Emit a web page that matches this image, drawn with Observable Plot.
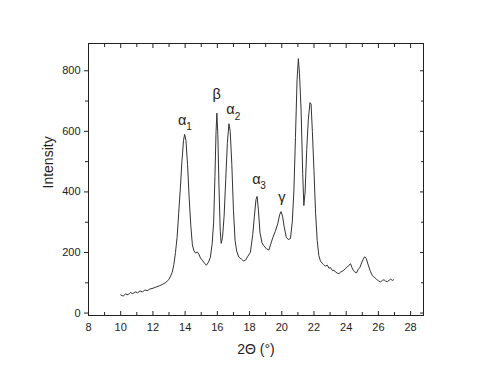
<!DOCTYPE html>
<html><head><meta charset="utf-8">
<script src="https://cdn.jsdelivr.net/npm/d3@7"></script>
<script src="https://cdn.jsdelivr.net/npm/@observablehq/plot@0.6"></script>
<style>body{margin:0;background:#fff;} svg{display:block;}</style>
</head><body><div id="chart"></div>
<script>
const twoTheta = [10.0,10.15,10.3,10.45,10.6,10.75,10.9,11.05,11.2,11.35,11.5,11.65,11.8,12.0,12.2,12.4,12.6,12.8,12.98,13.1,13.2,13.3,13.4,13.5,13.6,13.7,13.8,13.9,13.97,14.05,14.15,14.25,14.35,14.45,14.55,14.65,14.75,14.85,14.95,15.1,15.2,15.32,15.45,15.57,15.68,15.77,15.85,15.92,15.97,16.03,16.1,16.18,16.24,16.32,16.42,16.52,16.62,16.72,16.8,16.9,17.0,17.1,17.2,17.33,17.5,17.62,17.75,17.9,18.05,18.2,18.3,18.4,18.47,18.55,18.65,18.77,18.89,19.05,19.2,19.3,19.45,19.6,19.75,19.87,19.95,20.05,20.15,20.28,20.4,20.54,20.65,20.75,20.85,20.95,21.03,21.1,21.2,21.3,21.37,21.45,21.55,21.65,21.75,21.82,21.9,22.0,22.1,22.2,22.3,22.4,22.5,22.6,22.7,22.83,22.93,23.03,23.15,23.24,23.35,23.45,23.55,23.65,23.75,23.86,23.97,24.07,24.17,24.27,24.36,24.45,24.55,24.65,24.75,24.85,24.95,25.06,25.15,25.25,25.33,25.41,25.5,25.62,25.75,25.87,26.0,26.14,26.25,26.35,26.45,26.56,26.66,26.76,26.87,26.95];
const intensity = [60,56,63,60,68,64,70,67,73,70,76,74,79,82,86,90,95,101,110,122,135,160,200,250,330,410,500,570,590,570,490,380,290,225,205,198,202,195,182,172,165,158,168,185,230,300,450,600,660,590,420,270,230,250,320,440,560,625,600,490,340,240,205,185,178,172,175,188,200,260,320,375,385,340,265,232,222,212,208,225,250,270,295,325,335,320,285,250,243,246,300,400,580,770,840,790,670,460,355,400,540,640,695,690,600,470,330,240,190,172,165,160,155,158,148,150,140,142,135,132,130,135,138,142,148,152,158,163,150,140,135,133,145,150,165,178,186,180,165,152,138,124,118,113,106,103,108,110,105,104,108,112,108,110];

const xMajor = [8,10,12,14,16,18,20,22,24,26,28];
const xMinor = [9,11,13,15,17,19,21,23,25,27];
const yMajor = [0,200,400,600,800];
const yMinor = [100,300,500,700];

const peakNames = ["α","β","α","α","γ"];
const peakX = [13.81,15.96,16.81,18.42,20.0];
const peakY = [637,721,672,441,383];
const subNames = ["1","2","3"];
const subX = [14.24,17.25,18.83];
const subY = [615,648,421];

const xTitle = "2Θ (°)";
const yTitle = "Intensity";

const data = twoTheta.map((t, i) => ({t, v: intensity[i]}));
const blank = () => "";

const chart = Plot.plot({
  width: 491, height: 378,
  marginLeft: 88, marginRight: 68, marginTop: 43, marginBottom: 63,
  style: {fontFamily: "'Liberation Sans', Arial, sans-serif", background: "#fff", color: "#222", fontSize: "11px"},
  x: {domain: [8, 28.8]},
  y: {domain: [-8, 890]},
  marks: [
    Plot.line(data, {x: "t", y: "v", stroke: "#333", strokeWidth: 1}),
    Plot.frame({stroke: "#222"}),
    Plot.axisY(yMajor, {anchor: "left", tickSize: 4, tickPadding: 4, fontSize: 11, label: null}),
    Plot.axisY(yMinor, {anchor: "left", tickSize: 3, tickFormat: blank, label: null}),
    Plot.axisY(yMajor, {anchor: "right", tickSize: -4, tickFormat: blank, label: null}),
    Plot.axisY(yMinor, {anchor: "right", tickSize: -3, tickFormat: blank, label: null}),
    Plot.axisX(xMajor, {anchor: "bottom", tickSize: -4, tickFormat: blank, label: null}),
    Plot.axisX(xMinor, {anchor: "bottom", tickSize: -3, tickFormat: blank, label: null}),
    Plot.axisX(xMajor, {anchor: "bottom", tickSize: 0, tickPadding: 8, fontSize: 11, label: null}),
    Plot.axisX(xMajor, {anchor: "top", tickSize: -4, tickFormat: blank, label: null}),
    Plot.axisX(xMinor, {anchor: "top", tickSize: -3, tickFormat: blank, label: null}),
    Plot.text(peakNames, {x: peakX, y: peakY, text: d => d, fontSize: 14.5, fill: "#222"}),
    Plot.text(subNames, {x: subX, y: subY, text: d => d, fontSize: 10, fill: "#222"}),
    Plot.text([yTitle], {frameAnchor: "left", dx: -40, dy: 9, rotate: -90, fontSize: 14, fill: "#222"}),
    Plot.text([xTitle], {frameAnchor: "bottom", dy: 38, fontSize: 14, fill: "#222"})
  ]
});
document.getElementById("chart").appendChild(chart);
</script>
</body></html>
